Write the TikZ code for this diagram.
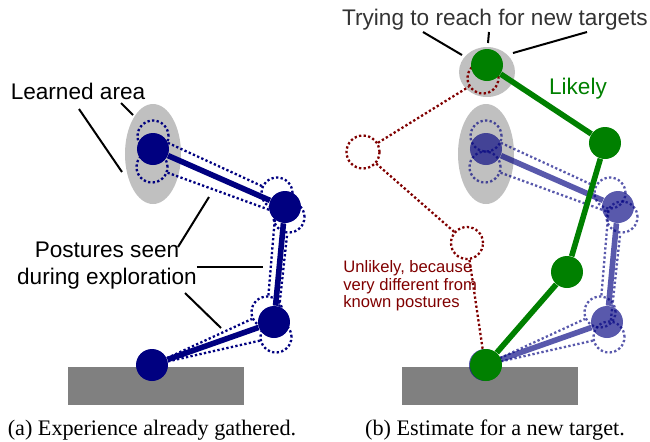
\documentclass[tikz,border=0pt]{standalone}
\usepackage{fontspec}
\setmainfont{Liberation Sans}
\newfontfamily\capfont{Liberation Serif}
\usepackage{xcolor}

\definecolor{armblue}{RGB}{0,0,128}
\definecolor{armgreen}{RGB}{0,128,0}
\definecolor{badred}{RGB}{128,0,0}
\definecolor{areagray}{RGB}{192,192,192}
\definecolor{floorgray}{RGB}{128,128,128}

\tikzset{
joint/.style 	= {circle, fill, inner sep=0pt, minimum size=16pt},
ghost/.style 	= {circle, draw, line width=1.15pt, dash pattern=on 1.15pt off 1.15pt, inner sep=0pt, minimum size=15.5pt},
limb/.style 	= {line width=2.8pt},
seen/.style 	= {line width=1.15pt, dash pattern=on 1.15pt off 1.15pt},
pointer/.style 	= {line width=1pt, black},
lbl/.style 	= {font=\fontsize{11.3}{13.5}\selectfont, align=center}
}

\begin{document}
\begin{tikzpicture}[x=0.5pt,y=-0.5pt]
%\draw[help lines] (0,0) grid[step=50] (650,441);
\useasboundingbox (0,0) rectangle (650,441);

% floor and learned areas
\fill[floorgray] (68,367) rectangle (244,405);
\fill[floorgray] (402,367) rectangle (578,405);
\fill[areagray] (153,154) ellipse [x radius=28, y radius=50];
\fill[areagray] (486,154) ellipse [x radius=28, y radius=50];
\fill[areagray] (487,72) ellipse [x radius=28, y radius=25];

% known postures (left, then faded copy on the right)
\foreach \p/\dx/\op in {l/0/1,r/333/0.65}{
\begin{scope}[shift={(\dx,0)}, opacity=\op, armblue]
\node[ghost] (\p t1) at (153,136) {};
\node[ghost] (\p t2) at (152,167) {};
\node[ghost] (\p m1) at (277,193) {};
\node[ghost] (\p m2) at (289,217) {};
\node[ghost] (\p e1) at (267,312) {};
\node[ghost] (\p e2) at (276,337) {};
\node[joint] (\p 0) at (152,365) {};
\node[joint] (\p 1) at (274,322) {};
\node[joint] (\p 2) at (285,207) {};
\node[joint] (\p 3) at (153,149) {};
\draw[seen] (\p 0) -- (\p e1) -- (\p m1) -- (\p t1);
\draw[seen] (\p 0) -- (\p e2) -- (\p m2) -- (\p t2);
\draw[limb] (\p 0) -- (\p 1) -- (\p 2) -- (\p 3);
\end{scope}
}

% unlikely posture
\node[ghost, badred] (u3) at (483,78) {};
\node[ghost, badred, minimum size=16.5pt] (u2) at (363,152) {};
\node[ghost, badred, minimum size=16pt] (u1) at (467,243) {};
\draw[seen, badred] (r0) -- (u1) -- (u2) -- (u3);

% likely posture
\begin{scope}[armgreen]
\node[joint] (g0) at (486,365) {};
\node[joint] (g1) at (567,272) {};
\node[joint] (g2) at (605,143) {};
\node[joint] (g3) at (487,65) {};
\draw[limb] (g0) -- (g1) -- (g2) -- (g3);
\end{scope}

% labels
\node[lbl] (learned) at (78,91) {Learned area};
\node[lbl] (postures) at (107,266) {Postures seen\\during exploration};
\node[lbl, black!80] (trying) at (495,20) {Trying to reach for new targets};
\node[lbl, armgreen] (likely) at (578,89) {Likely};
\node[font=\fontsize{8.3}{8.8}\selectfont, align=left, badred, anchor=west, inner sep=0pt] (unlikely) at (343,286) {Unlikely, because\\very different from\\known postures};

\foreach \xa/\ya/\xb/\yb [count=\i] in {121/103/133/115, 79/109/122/172, 178/247/209/197, 197/267/263/267, 185/293/221/328, 423/32/462/55, 489/32/488/43, 587/32/513/53}{
\coordinate (pa\i) at (\xa,\ya);
\coordinate (pb\i) at (\xb,\yb);
\draw[pointer] (pa\i) -- (pb\i);
}

% captions
\node[font=\capfont\fontsize{11.1}{13}\selectfont] (capa) at (152,430) {(a) Experience already gathered.};
\node[font=\capfont\fontsize{11.1}{13}\selectfont] (capb) at (495,430) {(b) Estimate for a new target.};
\end{tikzpicture}
\end{document}
